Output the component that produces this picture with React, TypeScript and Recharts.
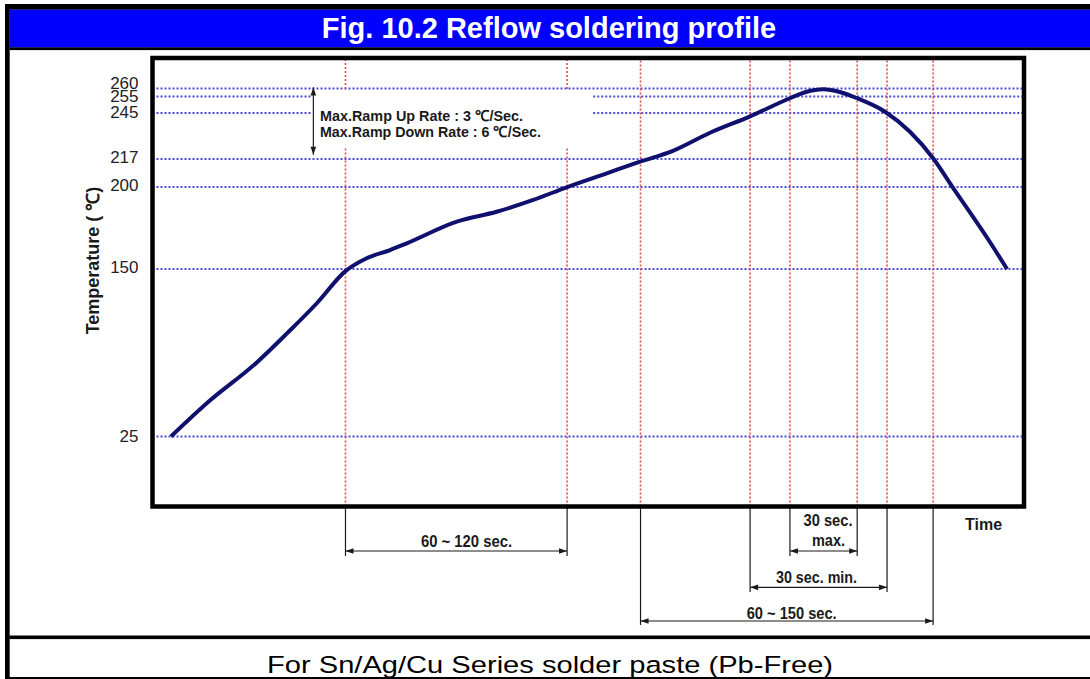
import React from 'react';
import { ComposedChart, Line, XAxis, YAxis, ReferenceLine } from 'recharts';

// ---- data (time in s, temperature in °C) ----
const timeSec = [7.4, 21.9, 42, 54, 66, 77.5, 86, 95.4, 102.1, 122.2, 138.2, 152.9, 166.3, 182.4, 195.8, 209, 223.9, 240, 256, 262.4, 269.5, 276, 283, 294.2, 304.2, 313.5, 321.5, 328.3, 336.3, 343.2];
const tempC = [25, 50, 80.5, 102, 124.5, 148.5, 156.6, 161.6, 165.7, 178.9, 184.9, 192.1, 199.8, 208.3, 215.4, 222, 233, 243, 254, 257.8, 259.5, 257.8, 254, 245.8, 233.6, 217.5, 199.5, 184.5, 166.5, 150];
const tickTemps = [25, 150, 200, 217, 245, 255, 260];
const fullGridTemps = [25, 150, 200, 217, 260];
const gappedGridTemps = [245, 255];
const markerTimes = [77.5, 166.5, 196, 240, 256, 283, 295, 313.5];
const gappedMarkerTimes = [77.5, 166.5];
const spanFrom = [77.5, 256, 240, 196];
const spanTo = [166.5, 283, 295, 313.5];
const spanLabels = ['60 ~ 120 sec.', '30 sec. max.', '30 sec. min.', '60 ~ 150 sec.'];

// axis break: below 150 °C the scale is compressed
const BREAK = 150;
const K = 0.815;
const toDisp = (t: number) => (t >= BREAK ? t : BREAK - (BREAK - t) * K);

const data = timeSec.map((t, i) => ({ t, v: toDisp(tempC[i]) }));
const tickDisp = tickTemps.map(toDisp);
const tickIndex = (v: number) => tickDisp.findIndex((d) => Math.abs(d - v) < 1e-6);

// layout constants
const TICK_NUDGE = [-1, -2, -2, -2.3, -0.9, -0.3, -5];
const X_DOMAIN: [number, number] = [0, 350];
const Y_DOMAIN: [number, number] = [5.5, 278.5];
const GAP_T: [number, number] = [64, 177];
const GAP_V: [number, number] = [223.7, 259.6];
const SPAN_LEVEL = [-21.6, -21.6, -43.7, -64.2];
const SPAN_DROP = [-24.6, -24.6, -46.5, -66.6];
const RAMP_ARROW = { t: 64.6, top: 260.6, bottom: 219.6 };

const FONT = "'Liberation Sans', Arial, Helvetica, sans-serif";
const BLUE_DOT = '#4b4bd8';
const RED_DOT = '#e84a4a';
const INK = '#1a1a1a';

const YTick = (props: any) => {
  const { x, y, payload } = props;
  const i = tickIndex(payload.value);
  if (i < 0) return <g />;
  return (
    <text x={x} y={y + TICK_NUDGE[i]} dy="0.355em" textAnchor="end" fontSize={17} fill="#222" fontFamily={FONT}>
      {tickTemps[i]}
    </text>
  );
};

const arrowShape = (both: boolean) => (props: any) => {
  const { x1, y1, x2, y2 } = props;
  if ([x1, y1, x2, y2].some((n) => typeof n !== 'number' || isNaN(n))) return <g />;
  const dx = x2 - x1;
  const dy = y2 - y1;
  const len = Math.hypot(dx, dy) || 1;
  const ux = dx / len;
  const uy = dy / len;
  const px = -uy;
  const py = ux;
  const L = 8;
  const W = 2.8;
  const head = (tx: number, ty: number, ex: number, ey: number) =>
    `${tx},${ty} ${tx - ex * L + px * W},${ty - ey * L + py * W} ${tx - ex * L - px * W},${ty - ey * L - py * W}`;
  return (
    <g>
      <line x1={x1} y1={y1} x2={x2} y2={y2} stroke={INK} strokeWidth={1.2} />
      <polygon points={head(x2, y2, ux, uy)} fill={INK} />
      {both && <polygon points={head(x1, y1, -ux, -uy)} fill={INK} />}
    </g>
  );
};
const doubleArrow = arrowShape(true);

const plainLine = (props: any) => {
  const { x1, y1, x2, y2 } = props;
  return <line x1={x1} y1={y1} x2={x2} y2={y2} stroke={INK} strokeWidth={1.2} />;
};

export default function App() {
  const W = 1090;
  const H = 679;
  return (
    <div style={{ position: 'absolute', left: 0, top: 0, width: W, height: H, background: '#fff', overflow: 'hidden' }}>
      {/* background frame */}
      <svg width={W} height={H} style={{ position: 'absolute', left: 0, top: 0 }}>
        <rect x={0} y={0} width={W} height={H} fill="#fff" />
        <rect x={9.5} y={9.3} width={W - 9.5} height={38.2} fill="#0000ff" />
        <rect x={5} y={4} width={W - 5} height={5.5} fill="#000" />
        <rect x={5} y={4} width={4.7} height={H - 4} fill="#000" />
        <rect x={9.5} y={47.3} width={W - 9.5} height={2.8} fill="#000" />
        <rect x={9.5} y={635.5} width={W - 9.5} height={3.6} fill="#000" />
        <rect x={5} y={677} width={W - 5} height={2} fill="#000" />
        <text x={549} y={37.5} textAnchor="middle" fill="#fff" fontFamily={FONT} fontWeight="bold" fontSize={29}>
          Fig. 10.2 Reflow soldering profile
        </text>
        <text x={267} y={673} fill="#000" fontFamily={FONT} fontSize={24.5} textLength={566} lengthAdjust="spacingAndGlyphs">
          For Sn/Ag/Cu Series solder paste (Pb-Free)
        </text>
        <text
          x={92.5}
          y={260.5}
          dy="0.36em"
          textAnchor="middle"
          transform="rotate(-90 92.5 260.5)"
          fill={INK}
          fontFamily={FONT}
          fontWeight="bold"
          fontSize={18}
        >
          Temperature ( ℃)
        </text>
      </svg>

      {/* chart */}
      <div style={{ position: 'absolute', left: 0, top: 0 }}>
        <ComposedChart width={W} height={H} data={data} margin={{ top: 58, right: 66, bottom: 172.5, left: 92.5 }}>
          <XAxis dataKey="t" type="number" domain={X_DOMAIN} allowDataOverflow hide />
          <YAxis
            type="number"
            domain={Y_DOMAIN}
            allowDataOverflow
            ticks={tickDisp}
            interval={0}
            width={60}
            axisLine={false}
            tickLine={false}
            tickMargin={8}
            tick={YTick}
          />

          {fullGridTemps.map((t) => (
            <ReferenceLine key={'g' + t} y={toDisp(t)} stroke={BLUE_DOT} strokeWidth={2} strokeDasharray="2 2" />
          ))}
          {gappedGridTemps.map((t) => (
            <ReferenceLine
              key={'ga' + t}
              segment={[{ x: X_DOMAIN[0], y: toDisp(t) }, { x: GAP_T[0], y: toDisp(t) }]}
              stroke={BLUE_DOT}
              strokeWidth={2}
              strokeDasharray="2 2"
            />
          ))}
          {gappedGridTemps.map((t) => (
            <ReferenceLine
              key={'gb' + t}
              segment={[{ x: GAP_T[1], y: toDisp(t) }, { x: X_DOMAIN[1], y: toDisp(t) }]}
              stroke={BLUE_DOT}
              strokeWidth={2}
              strokeDasharray="2 2"
            />
          ))}

          {markerTimes
            .filter((m) => !gappedMarkerTimes.includes(m))
            .map((m) => (
              <ReferenceLine key={'m' + m} x={m} stroke={RED_DOT} strokeWidth={1.6} strokeDasharray="2 2" />
            ))}
          {gappedMarkerTimes.map((m) => (
            <ReferenceLine
              key={'ma' + m}
              segment={[{ x: m, y: Y_DOMAIN[0] }, { x: m, y: GAP_V[0] }]}
              stroke={RED_DOT}
              strokeWidth={1.6}
              strokeDasharray="2 2"
            />
          ))}
          {gappedMarkerTimes.map((m) => (
            <ReferenceLine
              key={'mb' + m}
              segment={[{ x: m, y: GAP_V[1] }, { x: m, y: Y_DOMAIN[1] }]}
              stroke={RED_DOT}
              strokeWidth={1.6}
              strokeDasharray="2 2"
            />
          ))}

          {/* ramp-rate arrow */}
          <ReferenceLine
            segment={[{ x: RAMP_ARROW.t, y: RAMP_ARROW.bottom }, { x: RAMP_ARROW.t, y: RAMP_ARROW.top }]}
            ifOverflow="visible"
            shape={doubleArrow}
          />

          {/* interval drop lines and arrows under the plot */}
          {spanFrom.map((f, i) => (
            <ReferenceLine
              key={'da' + i}
              segment={[{ x: f, y: Y_DOMAIN[0] }, { x: f, y: SPAN_DROP[i] }]}
              ifOverflow="visible"
              shape={plainLine}
            />
          ))}
          {spanTo.map((f, i) => (
            <ReferenceLine
              key={'db' + i}
              segment={[{ x: f, y: Y_DOMAIN[0] }, { x: f, y: SPAN_DROP[i] }]}
              ifOverflow="visible"
              shape={plainLine}
            />
          ))}
          {spanFrom.map((f, i) => (
            <ReferenceLine
              key={'ar' + i}
              segment={[{ x: f, y: SPAN_LEVEL[i] }, { x: spanTo[i], y: SPAN_LEVEL[i] }]}
              ifOverflow="visible"
              shape={doubleArrow}
            />
          ))}

          <Line
            type="monotone"
            dataKey="v"
            stroke="#10106e"
            strokeWidth={4}
            dot={false}
            activeDot={false}
            isAnimationActive={false}
          />
        </ComposedChart>
      </div>

      {/* foreground: plot frame and annotation texts */}
      <svg width={W} height={H} style={{ position: 'absolute', left: 0, top: 0, pointerEvents: 'none' }}>
        <rect x={152.5} y={58} width={871.5} height={448.5} fill="none" stroke="#000" strokeWidth={4.5} />
        <g fontFamily={FONT} fill={INK} fontWeight="bold">
          <text x={320} y={121} fontSize={15} textLength={203} lengthAdjust="spacingAndGlyphs">Max.Ramp Up Rate : 3 ℃/Sec.</text>
          <text x={320} y={137} fontSize={15} textLength={221} lengthAdjust="spacingAndGlyphs">Max.Ramp Down Rate : 6 ℃/Sec.</text>
          <text x={421} y={546.5} fontSize={16} textLength={91} lengthAdjust="spacingAndGlyphs">{spanLabels[0]}</text>
          <text x={803.5} y={526} fontSize={16} textLength={49} lengthAdjust="spacingAndGlyphs">30 sec.</text>
          <text x={812} y={546} fontSize={16} textLength={33} lengthAdjust="spacingAndGlyphs">max.</text>
          <text x={776} y={582.7} fontSize={16} textLength={81} lengthAdjust="spacingAndGlyphs">{spanLabels[2]}</text>
          <text x={746.7} y={619} fontSize={16} textLength={90} lengthAdjust="spacingAndGlyphs">{spanLabels[3]}</text>
          <text x={965} y={529.5} fontSize={16}>Time</text>
        </g>
      </svg>
    </div>
  );
}
